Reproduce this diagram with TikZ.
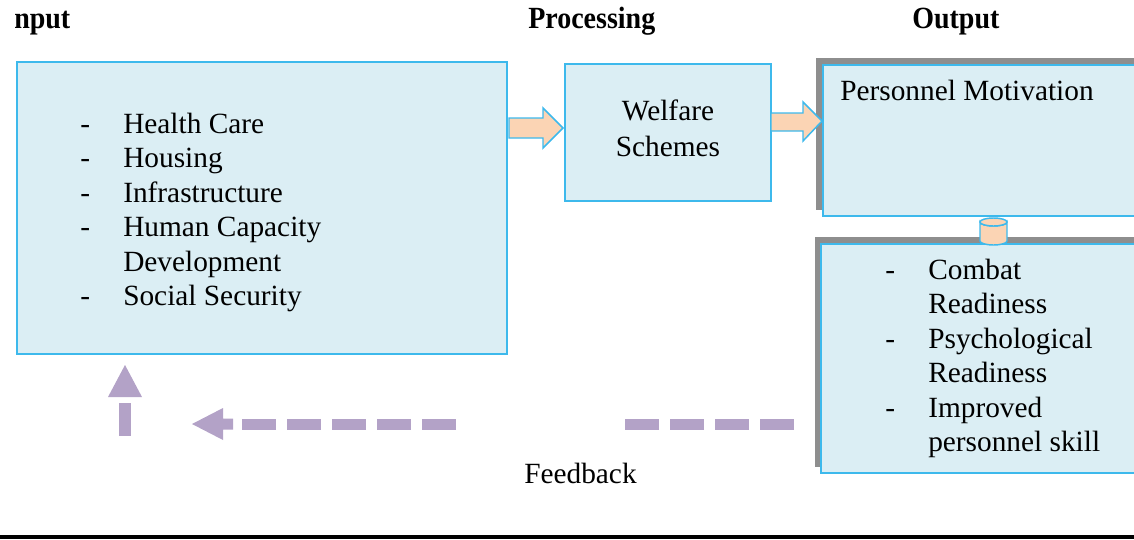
\documentclass[tikz,border=0pt]{standalone}
\usepackage{fontspec}
\setmainfont{Liberation Serif}
\definecolor{boxfill}{HTML}{DBEEF4}
\definecolor{boxline}{HTML}{3DB9EC}
\definecolor{peach}{HTML}{FBD4B4}
\definecolor{lav}{HTML}{B3A2C7}
\definecolor{shade}{HTML}{8E8E8E}
\begin{document}
\begin{tikzpicture}[x=0.75pt,y=-0.75pt,
  panel/.style={fill=boxfill,draw=boxline,line width=1.5pt,anchor=north west,inner sep=0pt},
  shadowbox/.style={fill=shade},
  blockarrow/.style={fill=peach,draw=boxline,line width=1.1pt,line join=miter},
  txt/.style={anchor=base west,inner sep=0pt,font=\fontsize{22}{26}\selectfont},
  ctxt/.style={anchor=base,inner sep=0pt,font=\fontsize{22}{26}\selectfont},
  heading/.style={anchor=base west,inner sep=0pt,font=\fontsize{21}{24}\selectfont\bfseries},
  fbdash/.style={draw=lav,line width=8.25pt,dash pattern=on 25.5pt off 8.25pt},
  fbhead/.style={fill=lav}]
\useasboundingbox (0,0) rectangle (1134,539);

% column headings
\node[heading] (hin)  at (14,28)  {\scalebox{1}[1.1]{nput}};
\node[heading] (hpro) at (528,28) {\scalebox{1}[1.1]{Processing}};
\node[heading] (hout) at (912,28) {\scalebox{1}[1.1]{Output}};

% shadows of the output panels
\fill[shadowbox] (816,58) rectangle (1140,210);
\fill[shadowbox] (815,237) rectangle (1140,467);

% panels
\node[panel,minimum width=367.5pt,minimum height=219pt]   (inp) at (16,61)  {};
\node[panel,minimum width=154.5pt,minimum height=102.75pt] (wel) at (564,63) {};
\node[panel,minimum width=242.25pt,minimum height=113.25pt] (mot) at (822,64) {};
\node[panel,minimum width=243.75pt,minimum height=171.75pt] (eff) at (820,243) {};

% input list
\foreach \y/\b/\t [count=\i] in {133/-/Health Care,167.5/-/Housing,202/-/Infrastructure,
    236.5/-/Human Capacity,271/ /Development,305.5/-/Social Security}{
  \node[txt] (inb\i) at (80,\y) {\b};
  \node[txt] (int\i) at (123,\y) {\t};
}

% processing
\node[ctxt] (wel1) at (668,120) {Welfare};
\node[ctxt] (wel2) at (668,156) {Schemes};

% output
\node[txt] (motT) at (840,100) {Personnel Motivation};
\foreach \y/\b/\t [count=\i] in {279/-/Combat,313.5/ /Readiness,348/-/Psychological,
    382.5/ /Readiness,417/-/Improved,451.5/ /personnel skill}{
  \node[txt] (effb\i) at (885,\y) {\b};
  \node[txt] (efft\i) at (928,\y) {\t};
}

% block arrows between stages
\path[blockarrow] (509,118) -- (543,118) -- (543,108) -- (563,128) -- (543,148)
  -- (543,138) -- (509,138) -- cycle;
\path[blockarrow] (771,113) -- (803,113) -- (803,102) -- (822,121) -- (803,141)
  -- (803,131) -- (771,131) -- cycle;

% small cylinder linking the two output panels
\path[blockarrow] (980,222) -- (980,241) arc[start angle=180,end angle=0,x radius=13.5,y radius=4]
  -- (1007,222) arc[start angle=0,end angle=180,x radius=13.5,y radius=4] -- cycle;
\path[blockarrow] (993.5,222) ellipse[x radius=13.5,y radius=4];

% feedback loop
\coordinate (fbA) at (794,424);
\coordinate (fbB) at (625,424);
\coordinate (fbC) at (456,424);
\coordinate (fbD) at (242,424);
\draw[fbdash] (fbA) -- (fbB);
\draw[fbdash] (fbC) -- (fbD);
\fill[fbhead] (192,424) -- (223,408) -- (223,418.5) -- (233,418.5) -- (233,429.5)
  -- (223,429.5) -- (223,440) -- cycle;
\fill[fbhead] (119,403) rectangle (131,436);
\fill[fbhead] (125,365) -- (108,397) -- (142,397) -- cycle;
\node[txt] (fb) at (524,483) {Feedback};

% closing rule
\draw[line width=3pt] (0,537) -- (1134,537);
\end{tikzpicture}
\end{document}
